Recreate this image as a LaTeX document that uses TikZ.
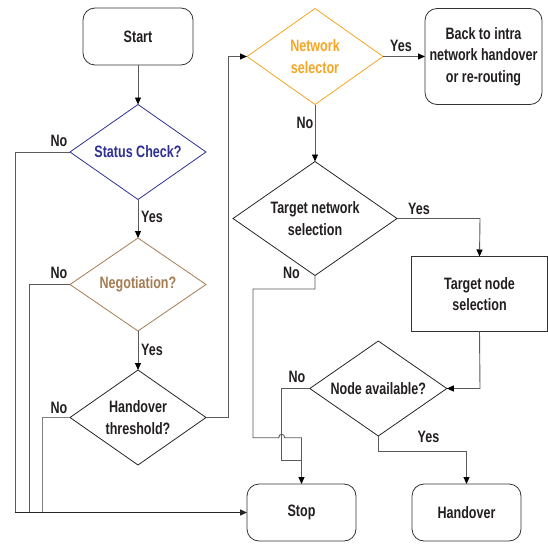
\documentclass[tikz,border=0pt]{standalone}
\usepackage{fontspec}
\setmainfont{Liberation Sans}[FakeStretch=0.76]
\usetikzlibrary{shapes.geometric,arrows.meta}
\definecolor{scblue}{HTML}{2E3192}
\definecolor{negbrown}{HTML}{A67C52}
\definecolor{nsorange}{HTML}{F6A623}
\definecolor{linegray}{HTML}{5A5A5A}
\definecolor{txt}{HTML}{231F20}
\begin{document}
\begin{tikzpicture}[x=1pt,y=-1pt,
  every node/.style={font=\fontsize{16.5}{21.5}\selectfont\bfseries, text=txt},
  rbox/.style={draw=black!80, line width=0.8pt, rounded corners=12pt, inner sep=0pt, outer sep=0pt, align=center},
  sbox/.style={draw=black!80, line width=0.8pt, inner sep=0pt, outer sep=0pt, align=center},
  dia/.style={diamond, draw=black!85, line width=0.8pt, inner sep=0pt, outer sep=0pt},
  conn/.style={draw=linegray, line width=0.9pt},
  arr/.style={conn, -{Triangle[length=7pt,width=6pt,color=black]}},
  lbl/.style={inner sep=1pt}
]
\path[fill=white] (0,0) rectangle (548,543);
\useasboundingbox (0,0) rectangle (548,543);

% nodes
\node[rbox, minimum width=110pt, minimum height=57pt] (start) at (138,36.5) {Start};
\node[dia, draw=scblue, minimum width=136pt, minimum height=95pt,
  label={[text=scblue]center:Status Check?}] (sc) at (138,152) {};
\node[dia, draw=negbrown, minimum width=136pt, minimum height=93pt,
  label={[text=negbrown]center:Negotiation?}] (neg) at (138,284.5) {};
\node[dia, minimum width=136pt, minimum height=95pt,
  label={[align=center]center:Handover\\threshold?}] (ht) at (138,417.5) {};
\node[dia, draw=nsorange, minimum width=136pt, minimum height=96pt,
  label={[text=nsorange, align=center]center:Network\\selector}] (ns) at (315,56.5) {};
\node[rbox, minimum width=117pt, minimum height=96pt] (back) at (483.5,56.5) {Back to intra\\network handover\\or re-routing};
\node[dia, minimum width=164pt, minimum height=114pt,
  label={[align=center]center:Target network\\selection}] (tns) at (315,218.5) {};
\node[sbox, minimum width=135.5pt, minimum height=75pt] (tnode) at (479.5,294) {Target node\\selection};
\node[dia, minimum width=137pt, minimum height=95pt,
  label={center:Node available?}] (na) at (378.3,388.5) {};
\node[rbox, minimum width=109pt, minimum height=57pt] (stop) at (301.5,512.5) {Stop};
\node[rbox, minimum width=109pt, minimum height=57pt] (ho) at (466.5,512.5) {Handover};

% helper coordinates
\coordinate (b1) at (15,512.5);
\coordinate (b2) at (29,512.5);
\coordinate (b3) at (42,512.5);
\coordinate (up) at (228,417.5);
\coordinate (tnsr) at (480,218.5);
\coordinate (tnb) at (315,289);
\coordinate (tnl) at (253,289);
\coordinate (jn) at (301.5,437.7);
\coordinate (nal) at (281.7,388.5);
\coordinate (nab) at (281.7,460);
\coordinate (nay) at (378.3,451);
\coordinate (tnd) at (480,388.5);

% main column
\draw[arr] (start.south) -- (sc.north);
\draw[arr] (sc.south) -- (neg.north);
\draw[arr] (neg.south) -- (ht.north);
\node[lbl, anchor=west] (y1) at (140,216.5) {Yes};
\node[lbl, anchor=west] (y2) at (140,350) {Yes};

% No branches to stop
\draw[conn] (sc.west) -| (b1);
\draw[conn] (neg.west) -| (b2);
\draw[conn, draw=gray] (ht.west) -| (b3);
\draw[-{Triangle[length=7pt,width=6pt]}, line width=1.3pt, draw=black!85] (b1) -- (stop.west);
\node[lbl] (n1) at (59,141) {No};
\node[lbl] (n2) at (59,272.5) {No};
\node[lbl] (n3) at (59,408) {No};

% handover threshold yes -> network selector
\draw[arr] (ht.east) -- (up) |- (ns.west);

% network selector
\draw[arr] (ns.east) -- (back.west);
\node[lbl] (y3) at (401,45.5) {Yes};
\draw[arr] (ns.south) -- (tns.north);
\node[lbl] (n4) at (305,122.5) {No};

% target network selection
\draw[arr] (tns.east) -- (tnsr) -- (tnode.north);
\node[lbl] (y4) at (419,209) {Yes};
\draw[arr] (tns.south) -- (tnb) -- (tnl) |- (278.7,437.7)
  .. controls (278.7,433.2) and (284.7,433.2) .. (284.7,437.7) -- (jn) -- (stop.north);
\node[lbl] (n5) at (291.5,272.5) {No};

% target node -> node available
\draw[arr] (tnode.south) -- (tnd) -- (na.east);

% node available
\draw[conn] (na.west) -- (nal) -- (nab) -- (nab -| jn);
\node[lbl] (n6) at (297,377) {No};
\draw[arr] (na.south) -- (nay) -| (ho.north);
\node[lbl] (y5) at (428.5,437) {Yes};
\end{tikzpicture}
\end{document}
